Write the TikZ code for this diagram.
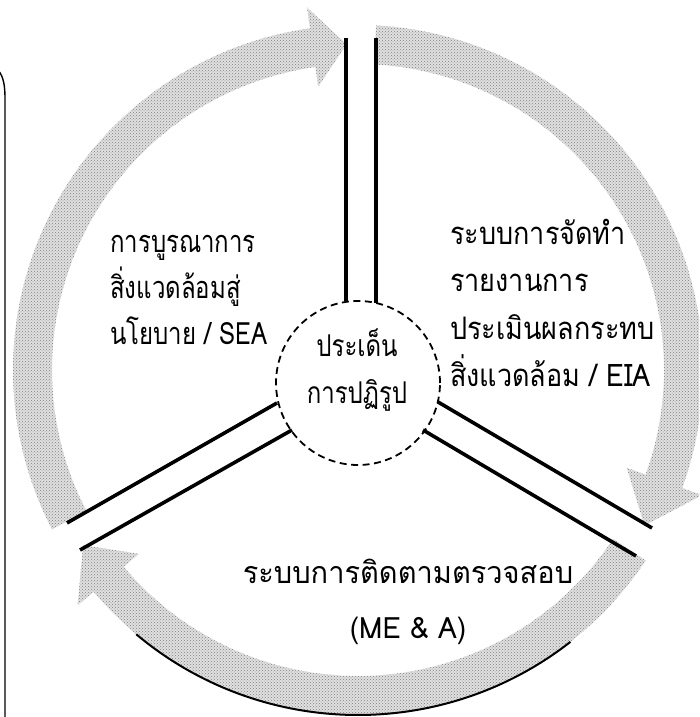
\documentclass[tikz,border=0pt]{standalone}
\usepackage{fontspec}
\newfontfamily\thai[Script=Thai]{Loma}
\usetikzlibrary{patterns}
\newcommand\ringarrow[3]{%
  \fill[band] (#1:345pt) arc[start angle=#1, end angle=#2, radius=345pt] -- (#2:366pt) -- (#3:326pt) -- (#2:286pt) -- (#2:306pt) arc[start angle=#2, end angle=#1, radius=306pt] -- cycle;
  \path[bandtex] (#1:345pt) arc[start angle=#1, end angle=#2, radius=345pt] -- (#2:366pt) -- (#3:326pt) -- (#2:286pt) -- (#2:306pt) arc[start angle=#2, end angle=#1, radius=306pt] -- cycle;
}
\begin{document}
\begin{tikzpicture}[x=1pt,y=1pt,
  band/.style={fill=black!12},
  bandtex/.style={pattern=crosshatch dots, pattern color=black!50},
  spokeline/.style={line width=3.6pt},
  lbl/.style={inner sep=0pt, align=left}]
\useasboundingbox (0,0) rectangle (699,717);
\clip (0,0) rectangle (699,717);
\fill[white] (0,0) rectangle (699,717);
% left border
\draw[line width=1.4pt] (-2,647) .. controls (4,640) and (5,630) .. (5,618) -- (5,-2);
% ring arrows
\begin{scope}[shift={(358,347)}]
  \ringarrow{207.5}{98}{92}
  \ringarrow{87}{-20}{-28.5}
  \ringarrow{-33.5}{-140}{-147.5}
  \draw[line width=2pt] (230:345pt) arc[start angle=230, end angle=308, radius=345pt];
\end{scope}
% hub
\node[draw, dashed, line width=1.8pt, dash pattern=on 7pt off 4.5pt, circle, minimum size=164pt, inner sep=0pt] (hub) at (358,334) {};
\node[lbl, align=center, yscale=1.25, transform shape, font={\thai\fontsize{24}{38}\selectfont}] (hubtxt) at (357,347) {ประเด็น\\การปฏิรูป};
% spoke coordinates
\coordinate (vl0) at (346,416); \coordinate (vl1) at (346,679);
\coordinate (vr0) at (376,414); \coordinate (vr1) at (376,679);
\coordinate (ru0) at (438,315); \coordinate (ru1) at (652,189);
\coordinate (rl0) at (423,287); \coordinate (rl1) at (636,161);
\coordinate (lu0) at (277,314); \coordinate (lu1) at (67,194);
\coordinate (ll0) at (292,287); \coordinate (ll1) at (80,167);
\draw[spokeline] (vl0) -- (vl1);
\draw[spokeline] (vr0) -- (vr1);
\draw[spokeline] (ru0) -- (ru1);
\draw[spokeline] (rl0) -- (rl1);
\draw[spokeline] (lu0) -- (lu1);
\draw[spokeline] (ll0) -- (ll1);
% labels
\node[lbl, anchor=west, yscale=1.28, transform shape, font={\thai\fontsize{24}{36}\selectfont}] (sea) at (110,427) {การบูรณาการ\\สิ่งแวดล้อมสู่\\นโยบาย / SEA};
\node[lbl, anchor=west, yscale=1.15, transform shape, font={\thai\fontsize{27}{41}\selectfont}] (eia) at (450,414) {ระบบการจัดทำ\\รายงานการ\\ประเมินผลกระทบ\\สิ่งแวดล้อม / EIA};
\node[lbl, align=center, yscale=1.05, transform shape, font={\thai\fontsize{29}{52}\selectfont}] (mea) at (408,115) {ระบบการติดตามตรวจสอบ\\{\fontsize{28}{52}\selectfont(ME \& A)}};
\end{tikzpicture}
\end{document}
